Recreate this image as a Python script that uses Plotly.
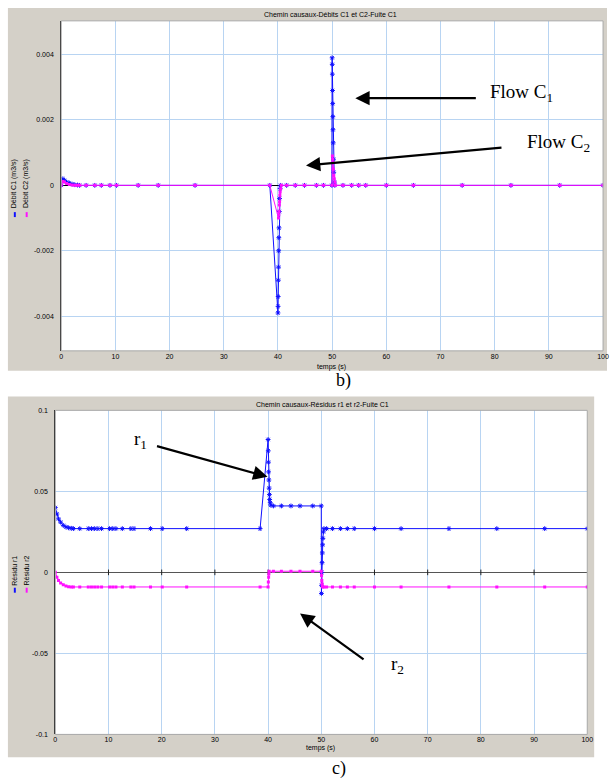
import plotly.graph_objects as go

W, H = 613, 783

# ---------------- data: panel b) flows ----------------
t_c1 = [0, 0.3, 0.6, 1.0, 1.5, 2.0, 2.5, 3.0, 3.4, 4.6, 6.2, 7.4, 9.0, 10.2, 14.2, 17.9, 24.7,
        38.5, 40.0, 40.02, 40.04, 40.07, 40.1, 40.13, 40.16, 40.2, 40.25, 40.3, 40.4, 40.5,
        41.6, 43.2, 44.9, 47.1, 48.4, 49.95, 50.0, 50.02, 50.04, 50.07, 50.1, 50.13, 50.16,
        50.2, 50.25, 50.3, 50.4, 50.5, 52.0, 53.6, 54.9, 56.2, 60.0, 65.0, 74.0, 83.0, 92.0, 100.0]
q_c1 = [0, 0.0002, 0.00015, 0.0001, 0.00007, 0.00004, 0.00002, 0.00001, 0, 0, 0, 0, 0, 0, 0, 0, 0,
        0, -0.0039, -0.0037, -0.0034, -0.0029, -0.0025, -0.002, -0.0016, -0.0013, -0.0008, -0.0004, -0.0001, 0,
        0, 0, 0, 0, 0, 0, 0.0039, 0.0037, 0.0034, 0.0029, 0.0025, 0.0021, 0.0017,
        0.0013, 0.0008, 0.0004, 0.0001, 0, 0, 0, 0, 0, 0, 0, 0, 0, 0, 0]

t_c2 = [0, 0.3, 0.6, 1.0, 1.5, 2.0, 2.5, 3.0, 3.4, 4.6, 6.2, 7.4, 9.0, 10.2, 14.2, 17.9, 24.7,
        38.5, 40.1, 40.15, 40.2, 40.25, 40.3, 40.35, 40.4, 40.5, 40.6, 41.6, 43.2, 44.9, 47.1,
        48.4, 50.0, 50.05, 50.1, 50.15, 50.2, 50.3, 50.4, 50.5, 50.6, 52.0, 53.6, 54.9, 56.2,
        60.0, 65.0, 74.0, 83.0, 92.0, 100.0]
q_c2 = [0, 0.00012, 0.0001, 0.00006, 0.00003, 0.00001, 0, 0, 0, 0, 0, 0, 0, 0, 0, 0, 0,
        0, -0.001, -0.0009, -0.0008, -0.0006, -0.0005, -0.0003, -0.0002, -0.0001, 0, 0, 0, 0, 0,
        0, 0, 0.0009, 0.0008, 0.0007, 0.0005, 0.0003, 0.0002, 0.0001, 0, 0, 0, 0, 0,
        0, 0, 0, 0, 0, 0]

# ---------------- data: panel c) residuals ----------------
t_r1 = [0, 0.3, 0.6, 1.0, 1.5, 2.0, 2.5, 3.0, 3.4, 4.6, 6.2, 6.8, 7.4, 8.0, 8.7, 10.2, 10.8,
        11.4, 12.6, 14.2, 14.8, 17.9, 20.1, 24.7, 38.5, 40.0, 40.03, 40.06, 40.1, 40.15, 40.2,
        40.25, 40.3, 40.4, 40.5, 41.0, 42.5, 44.3, 46.0, 48.4, 50.0, 50.03, 50.06, 50.1, 50.15,
        50.2, 50.25, 50.3, 50.4, 50.5, 51.0, 52.1, 53.6, 54.9, 56.2, 60.0, 65.0, 74.0, 83.0,
        92.0, 100.0]
r1 = [0.040, 0.036, 0.033, 0.031, 0.029, 0.028, 0.0275, 0.0272, 0.027, 0.027, 0.027, 0.027,
      0.027, 0.027, 0.027, 0.027, 0.027, 0.027, 0.027, 0.027, 0.027, 0.027, 0.027, 0.027,
      0.027, 0.082, 0.075, 0.068, 0.062, 0.057, 0.052, 0.048, 0.045, 0.043, 0.0415, 0.041,
      0.041, 0.041, 0.041, 0.041, 0.041, -0.013, -0.008, 0.0, 0.006, 0.012, 0.017, 0.021,
      0.025, 0.027, 0.027, 0.027, 0.027, 0.027, 0.027, 0.027, 0.027, 0.027, 0.027, 0.027, 0.027]

t_r2 = [0, 0.3, 0.6, 1.0, 1.5, 2.0, 2.5, 3.0, 3.4, 4.6, 6.2, 6.8, 7.4, 8.0, 8.7, 10.2, 10.8,
        11.4, 12.6, 14.2, 14.8, 17.9, 20.1, 24.7, 38.5, 40.0, 40.05, 40.1, 40.15, 40.2, 41.0,
        42.5, 44.3, 46.0, 48.4, 50.0, 50.05, 50.1, 50.15, 50.2, 50.3, 50.5, 51.0, 52.1, 53.6,
        54.9, 56.2, 60.0, 65.0, 74.0, 83.0, 92.0, 100.0]
r2 = [0, -0.003, -0.005, -0.0065, -0.0077, -0.0084, -0.0088, -0.009, -0.009, -0.009, -0.009,
      -0.009, -0.009, -0.009, -0.009, -0.009, -0.009, -0.009, -0.009, -0.009, -0.009, -0.009,
      -0.009, -0.009, -0.009, -0.009, -0.006, -0.003, -0.001, 0.0007, 0.0007, 0.0007, 0.0007,
      0.0007, 0.0007, 0.0007, -0.002, -0.005, -0.007, -0.0085, -0.009, -0.009, -0.009, -0.009,
      -0.009, -0.009, -0.009, -0.009, -0.009, -0.009, -0.009, -0.009, -0.009]

x_ticks = [0, 10, 20, 30, 40, 50, 60, 70, 80, 90, 100]
x_tick_labels = ["0", "10", "20", "30", "40", "50", "60", "70", "80", "90", "100"]
y_ticks_b = [-0.004, -0.002, 0, 0.002, 0.004]
y_tick_labels_b = ["-0.004", "-0.002", "0", "0.002", "0.004"]
y_ticks_c = [-0.1, -0.05, 0, 0.05, 0.1]
y_tick_labels_c = ["-0.1", "-0.05", "0", "0.05", "0.1"]
zero_marks = [10, 20, 30, 40, 50, 60, 70, 80, 90]

title_b = "Chemin causaux-Débits C1 et C2-Fuite C1"
title_c = "Chemin causaux-Résidus r1 et r2-Fuite C1"
legend_b = ["Débit C1 (m3/s)", "Débit C2 (m3/s)"]
legend_c = ["Résidu r1", "Résidu r2"]

BLUE = "#1010ff"
MAG = "#ff10ff"
GRID = "#b8d4f2"
PANEL = "#d4d0c8"
SANS = "Liberation Sans"
SERIF = "Liberation Serif"


def px(x):
    return x / W


def py(y):
    return 1 - y / H


fig = go.Figure()

blue_marker = dict(symbol="asterisk-open", size=4, color=BLUE, line=dict(color=BLUE, width=1))
mag_marker = dict(symbol="square", size=3, color=MAG)

# top panel traces
fig.add_trace(go.Scatter(x=t_c1, y=q_c1, mode="lines+markers", xaxis="x", yaxis="y",
                         line=dict(color=BLUE, width=1), marker=blue_marker, showlegend=False))
fig.add_trace(go.Scatter(x=t_c2, y=q_c2, mode="lines+markers", xaxis="x", yaxis="y",
                         line=dict(color=MAG, width=1), marker=mag_marker, showlegend=False))

# bottom panel traces
fig.add_trace(go.Scatter(x=zero_marks, y=[0] * len(zero_marks), mode="markers", xaxis="x2",
                         yaxis="y2", marker=dict(symbol="line-ns-open", size=4, color="#222222",
                                                  line=dict(color="#222222", width=1)),
                         showlegend=False, hoverinfo="skip"))
fig.add_trace(go.Scatter(x=t_r1, y=r1, mode="lines+markers", xaxis="x2", yaxis="y2",
                         line=dict(color=BLUE, width=1), marker=blue_marker, showlegend=False))
fig.add_trace(go.Scatter(x=t_r2, y=r2, mode="lines+markers", xaxis="x2", yaxis="y2",
                         line=dict(color=MAG, width=1), marker=mag_marker, showlegend=False))

tickfont = dict(family=SANS, size=7, color="#000000")

xcommon = dict(range=[0, 100], tickvals=x_ticks, ticktext=x_tick_labels, showgrid=True,
               gridcolor=GRID, gridwidth=1, zeroline=False, showline=False, ticks="",
               tickfont=tickfont, fixedrange=True)

fig.update_layout(
    width=W, height=H, margin=dict(l=0, r=0, t=0, b=0),
    paper_bgcolor="#ffffff", plot_bgcolor="#ffffff",
    xaxis=dict(domain=[px(60), px(609)], anchor="y", **xcommon),
    yaxis=dict(domain=[py(350), py(17)], anchor="x", range=[-0.00506, 0.00503],
               tickvals=y_ticks_b, ticktext=y_tick_labels_b, showgrid=True, gridcolor=GRID,
               zeroline=True, zerolinecolor="#000000", zerolinewidth=1,
               showline=True, linecolor="#222222", linewidth=1, ticks="outside",
               ticklen=5, tickcolor="rgba(0,0,0,0)", tickfont=tickfont, fixedrange=True),
    xaxis2=dict(domain=[px(54), px(593)], anchor="y2", **xcommon),
    yaxis2=dict(domain=[py(737), py(410)], anchor="x2", range=[-0.1, 0.1],
                tickvals=y_ticks_c, ticktext=y_tick_labels_c, showgrid=True, gridcolor=GRID,
                zeroline=True, zerolinecolor="#555555", zerolinewidth=1,
                showline=True, linecolor="#222222", linewidth=1, ticks="outside",
                ticklen=5, tickcolor="rgba(0,0,0,0)", tickfont=tickfont, fixedrange=True),
    hovermode=False,
)

shapes = []
# grey window panels
shapes.append(dict(type="rect", xref="paper", yref="paper", x0=px(6), x1=px(613),
                   y0=py(370), y1=py(4), fillcolor=PANEL, line=dict(width=0), layer="below"))
shapes.append(dict(type="rect", xref="paper", yref="paper", x0=px(60), x1=px(609),
                   y0=py(350), y1=py(17), fillcolor="#ffffff", line=dict(width=0), layer="below"))
shapes.append(dict(type="rect", xref="paper", yref="paper", x0=px(6), x1=px(600),
                   y0=py(760), y1=py(396), fillcolor=PANEL, line=dict(width=0), layer="below"))
shapes.append(dict(type="rect", xref="paper", yref="paper", x0=px(54), x1=px(593),
                   y0=py(737), y1=py(410), fillcolor="#ffffff", line=dict(width=0), layer="below"))
# plot frames (grey)
shapes.append(dict(type="rect", xref="paper", yref="paper", x0=px(60), x1=px(609),
                   y0=py(350), y1=py(17), line=dict(color="#a8a8a8", width=1), layer="above"))
shapes.append(dict(type="rect", xref="paper", yref="paper", x0=px(54), x1=px(593),
                   y0=py(737), y1=py(410), line=dict(color="#a8a8a8", width=1), layer="above"))
# legend colour marks
for xx, col in [(13, BLUE), (25, MAG)]:
    shapes.append(dict(type="rect", xref="paper", yref="paper", x0=px(xx - 1), x1=px(xx + 1),
                       y0=py(215), y1=py(210), fillcolor=col, line=dict(width=0)))
    shapes.append(dict(type="rect", xref="paper", yref="paper", x0=px(xx - 1), x1=px(xx + 1),
                       y0=py(594), y1=py(589), fillcolor=col, line=dict(width=0)))
fig.update_layout(shapes=shapes)

ann = []


def text(x, y, s, size=7, family=SANS, angle=0, xanchor="center"):
    ann.append(dict(x=px(x), y=py(y), xref="paper", yref="paper", text=s, showarrow=False,
                    xanchor=xanchor, yanchor="middle", textangle=angle,
                    font=dict(family=family, size=size, color="#000000")))


def arrow(x_tail, y_tail, x_head, y_head):
    ann.append(dict(x=px(x_head), y=py(y_head), xref="paper", yref="paper", text="",
                    showarrow=True, ax=x_tail - x_head, ay=y_tail - y_head,
                    axref="pixel", ayref="pixel", arrowhead=2, arrowsize=1.3,
                    arrowwidth=2.2, arrowcolor="#000000"))


text(333, 11, title_b)
text(325, 404, title_c)
text(334, 366, "temps (s)")
text(323, 751, "temps (s)")
text(13, 181, legend_b[0], angle=-90)
text(25, 181, legend_b[1], angle=-90)
text(13, 572, legend_c[0], angle=-90)
text(25, 572, legend_c[1], angle=-90)

text(346, 380, "b)", size=18, family=SERIF)
text(341, 771, "c)", size=18, family=SERIF)

text(492, 90, "Flow C<sub>1</sub>", size=19, family=SERIF, xanchor="left")
text(530, 140, "Flow C<sub>2</sub>", size=19, family=SERIF, xanchor="left")
text(132, 440, "r<sub>1</sub>", size=19, family=SERIF, xanchor="left")
text(392, 667, "r<sub>2</sub>", size=19, family=SERIF, xanchor="left")

arrow(480, 95, 358, 95)
arrow(505, 145, 308, 163)
arrow(157, 446, 269, 477)
arrow(367, 662, 302, 615)

fig.update_layout(annotations=ann)

fig.write_html("out.html", config={"displayModeBar": False, "staticPlot": True},
               post_script="document.body.style.margin='0';document.body.style.padding='0';"
                           "document.documentElement.style.overflow='hidden';")
